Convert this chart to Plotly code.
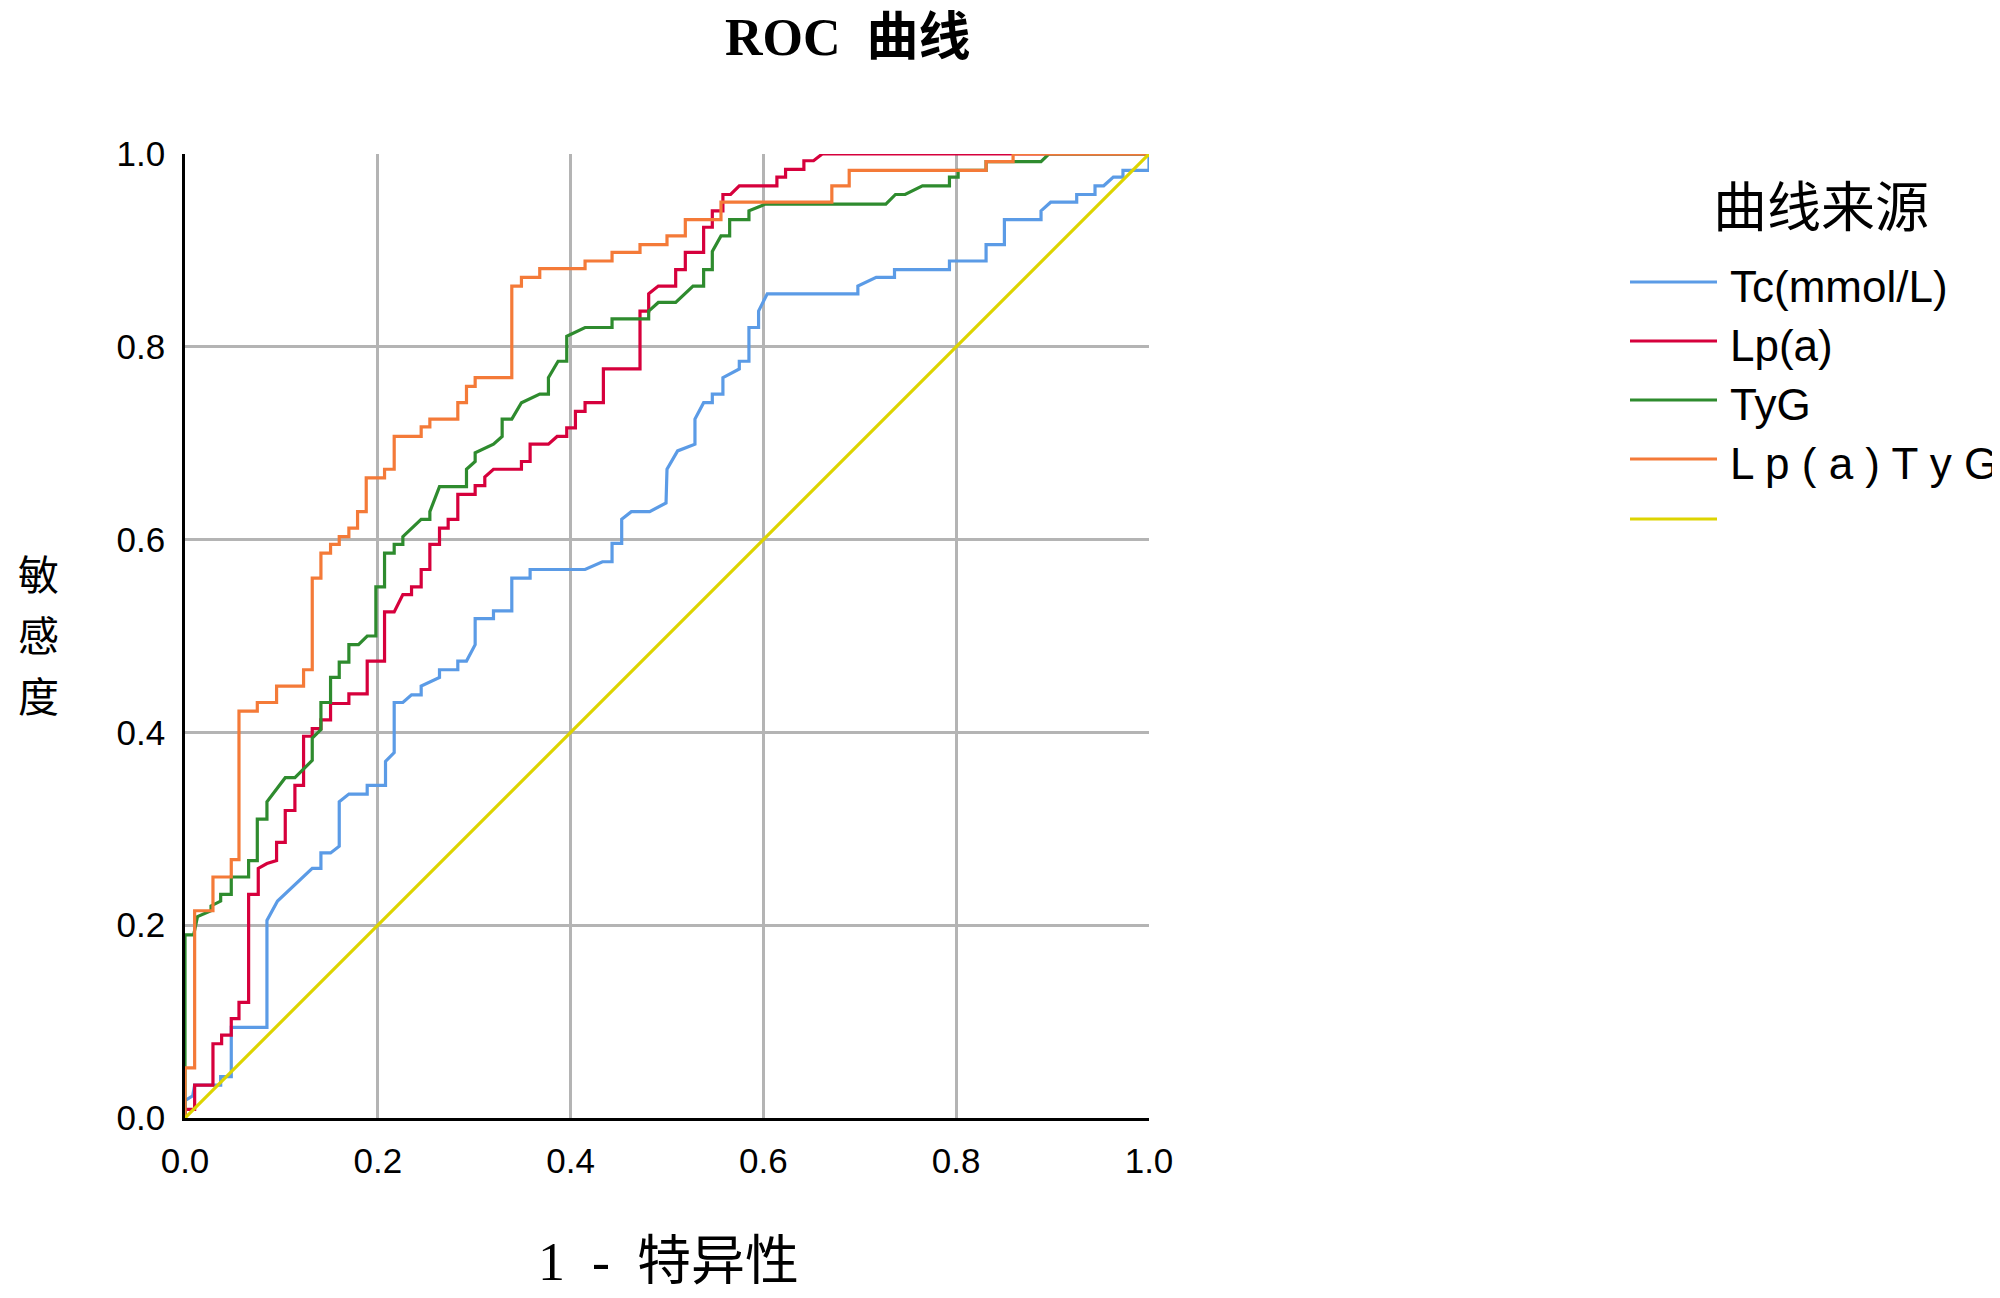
import plotly.graph_objects as go

# ROC curve points (1 - specificity, sensitivity)
tc_fpr = [0, 0, 0.008, 0.010, 0.037, 0.037, 0.048, 0.048, 0.085, 0.085, 0.096, 0.132, 0.141, 0.141, 0.151,
          0.160, 0.160, 0.170, 0.189, 0.189, 0.208, 0.208, 0.217, 0.217, 0.226, 0.235, 0.245, 0.245, 0.264,
          0.264, 0.283, 0.283, 0.292, 0.301, 0.301, 0.320, 0.320, 0.339, 0.339, 0.358, 0.358, 0.415, 0.433,
          0.443, 0.443, 0.453, 0.453, 0.463, 0.482, 0.499, 0.500, 0.511, 0.529, 0.529, 0.538, 0.547, 0.547,
          0.558, 0.558, 0.575, 0.575, 0.585, 0.585, 0.595, 0.595, 0.604, 0.698, 0.698, 0.717, 0.736, 0.736,
          0.793, 0.793, 0.831, 0.831, 0.850, 0.850, 0.888, 0.888, 0.898, 0.925, 0.925, 0.944, 0.944, 0.953,
          0.963, 0.973, 0.973, 1.0, 1.0]
tc_tpr = [0, 0.018, 0.023, 0.034, 0.034, 0.043, 0.043, 0.094, 0.094, 0.205, 0.225, 0.259, 0.259, 0.275, 0.275,
          0.282, 0.328, 0.336, 0.336, 0.345, 0.345, 0.370, 0.379, 0.431, 0.431, 0.439, 0.439, 0.448, 0.457,
          0.465, 0.465, 0.474, 0.474, 0.491, 0.518, 0.518, 0.526, 0.526, 0.560, 0.560, 0.569, 0.569, 0.577,
          0.577, 0.596, 0.596, 0.621, 0.629, 0.629, 0.638, 0.673, 0.692, 0.699, 0.725, 0.742, 0.742, 0.751,
          0.751, 0.768, 0.777, 0.785, 0.785, 0.820, 0.820, 0.837, 0.855, 0.855, 0.863, 0.872, 0.872, 0.880,
          0.880, 0.889, 0.889, 0.906, 0.906, 0.932, 0.932, 0.941, 0.950, 0.950, 0.958, 0.958, 0.967, 0.967,
          0.976, 0.976, 0.983, 0.983, 1.0]

lpa_fpr = [0, 0, 0.010, 0.010, 0.029, 0.029, 0.038, 0.038, 0.048, 0.048, 0.056, 0.056, 0.066, 0.066, 0.076,
           0.076, 0.085, 0.095, 0.095, 0.104, 0.104, 0.114, 0.114, 0.123, 0.123, 0.132, 0.132, 0.141, 0.141,
           0.151, 0.151, 0.170, 0.170, 0.189, 0.189, 0.207, 0.207, 0.217, 0.226, 0.235, 0.235, 0.245, 0.245,
           0.254, 0.254, 0.264, 0.264, 0.273, 0.273, 0.283, 0.283, 0.301, 0.301, 0.311, 0.311, 0.320, 0.349,
           0.349, 0.358, 0.358, 0.377, 0.386, 0.396, 0.396, 0.405, 0.405, 0.415, 0.415, 0.434, 0.434, 0.472,
           0.472, 0.481, 0.481, 0.491, 0.509, 0.509, 0.519, 0.519, 0.538, 0.538, 0.547, 0.547, 0.558, 0.558,
           0.566, 0.575, 0.614, 0.614, 0.623, 0.623, 0.642, 0.642, 0.652, 0.661, 1.0]
lpa_tpr = [0, 0.009, 0.009, 0.034, 0.034, 0.077, 0.077, 0.086, 0.086, 0.103, 0.103, 0.120, 0.120, 0.232, 0.232,
           0.259, 0.264, 0.267, 0.286, 0.286, 0.319, 0.319, 0.345, 0.345, 0.396, 0.396, 0.404, 0.404, 0.413,
           0.413, 0.430, 0.430, 0.440, 0.440, 0.474, 0.474, 0.525, 0.525, 0.543, 0.543, 0.551, 0.551, 0.569,
           0.569, 0.595, 0.595, 0.612, 0.612, 0.621, 0.621, 0.647, 0.647, 0.656, 0.656, 0.665, 0.673, 0.673,
           0.681, 0.681, 0.699, 0.699, 0.707, 0.707, 0.716, 0.716, 0.733, 0.733, 0.742, 0.742, 0.777, 0.777,
           0.837, 0.837, 0.855, 0.863, 0.863, 0.880, 0.880, 0.898, 0.898, 0.924, 0.924, 0.941, 0.941, 0.958,
           0.958, 0.967, 0.967, 0.976, 0.976, 0.984, 0.984, 0.993, 0.993, 1.0, 1.0]

tyg_fpr = [0, 0, 0.009, 0.013, 0.027, 0.027, 0.037, 0.037, 0.048, 0.048, 0.066, 0.066, 0.075, 0.075, 0.085,
           0.085, 0.104, 0.114, 0.132, 0.132, 0.141, 0.141, 0.151, 0.151, 0.160, 0.160, 0.170, 0.170, 0.180,
           0.189, 0.198, 0.198, 0.207, 0.207, 0.217, 0.217, 0.226, 0.226, 0.245, 0.254, 0.254, 0.264, 0.292,
           0.292, 0.301, 0.301, 0.320, 0.329, 0.329, 0.339, 0.349, 0.368, 0.377, 0.377, 0.387, 0.396, 0.396,
           0.415, 0.443, 0.443, 0.481, 0.481, 0.491, 0.509, 0.527, 0.538, 0.538, 0.547, 0.547, 0.556, 0.565,
           0.565, 0.585, 0.585, 0.602, 0.727, 0.737, 0.747, 0.765, 0.793, 0.793, 0.802, 0.802, 0.831, 0.831,
           0.888, 0.896, 1.0]
tyg_tpr = [0, 0.190, 0.190, 0.209, 0.215, 0.220, 0.225, 0.232, 0.232, 0.250, 0.250, 0.267, 0.267, 0.310, 0.310,
           0.328, 0.353, 0.353, 0.371, 0.394, 0.403, 0.431, 0.431, 0.457, 0.457, 0.473, 0.473, 0.491, 0.491,
           0.500, 0.500, 0.551, 0.551, 0.586, 0.586, 0.595, 0.595, 0.603, 0.621, 0.621, 0.629, 0.655, 0.655,
           0.673, 0.681, 0.690, 0.699, 0.707, 0.725, 0.725, 0.742, 0.751, 0.751, 0.768, 0.785, 0.785, 0.811,
           0.820, 0.820, 0.829, 0.829, 0.837, 0.846, 0.846, 0.863, 0.863, 0.880, 0.880, 0.899, 0.915, 0.915,
           0.932, 0.932, 0.941, 0.948, 0.948, 0.958, 0.958, 0.967, 0.967, 0.976, 0.976, 0.983, 0.983, 0.992,
           0.992, 1.0, 1.0]

comb_fpr = [0, 0, 0.010, 0.010, 0.029, 0.029, 0.048, 0.048, 0.056, 0.056, 0.075, 0.075, 0.095, 0.095, 0.123,
            0.123, 0.132, 0.132, 0.141, 0.141, 0.151, 0.151, 0.160, 0.160, 0.170, 0.170, 0.179, 0.179, 0.188,
            0.188, 0.207, 0.207, 0.217, 0.217, 0.245, 0.245, 0.254, 0.254, 0.283, 0.283, 0.292, 0.292, 0.301,
            0.301, 0.339, 0.339, 0.349, 0.349, 0.368, 0.368, 0.415, 0.415, 0.443, 0.443, 0.472, 0.472, 0.500,
            0.500, 0.519, 0.519, 0.556, 0.556, 0.671, 0.671, 0.689, 0.689, 0.831, 0.831, 0.859, 0.859, 1.0]
comb_tpr = [0, 0.052, 0.052, 0.215, 0.215, 0.250, 0.250, 0.268, 0.268, 0.422, 0.422, 0.431, 0.431, 0.448, 0.448,
            0.465, 0.465, 0.560, 0.560, 0.586, 0.586, 0.595, 0.595, 0.603, 0.603, 0.612, 0.612, 0.629, 0.629,
            0.664, 0.664, 0.673, 0.673, 0.707, 0.707, 0.717, 0.717, 0.725, 0.725, 0.742, 0.742, 0.759, 0.759,
            0.768, 0.768, 0.863, 0.863, 0.872, 0.872, 0.881, 0.881, 0.889, 0.889, 0.898, 0.898, 0.906, 0.906,
            0.915, 0.915, 0.932, 0.932, 0.950, 0.950, 0.967, 0.967, 0.983, 0.983, 0.992, 0.992, 1.0, 1.0]

ref_fpr = [0, 1]
ref_tpr = [0, 1]

series_names = ["Tc(mmol/L)", "Lp(a)", "TyG", "L p ( a ) T y G", ""]
series_colors = ["#5b9be6", "#d6003c", "#2e8b2e", "#f47a38", "#ddd400"]
series_x = [tc_fpr, lpa_fpr, tyg_fpr, comb_fpr, ref_fpr]
series_y = [tc_tpr, lpa_tpr, tyg_tpr, comb_tpr, ref_tpr]

tick_vals = [0, 0.2, 0.4, 0.6, 0.8, 1.0]
tick_text = ["0.0", "0.2", "0.4", "0.6", "0.8", "1.0"]

# plot area in page pixels; the html body adds an 8px margin
L, R, T, B = 185, 1149, 154, 1118
W, H = 2000, 1298
BODY = 8


def px_x(p):
    return (p - L) / (R - L)


def px_y(p):
    return (B - p) / (B - T)


fig = go.Figure()
for xs, ys, name, color in zip(series_x, series_y, series_names, series_colors):
    fig.add_trace(go.Scatter(x=xs, y=ys, mode="lines", name=name,
                             line=dict(color=color, width=3.2), showlegend=False))

axis_common = dict(
    range=[0, 1], tickvals=tick_vals, ticktext=tick_text,
    showgrid=True, gridcolor="#b4b4b4", gridwidth=3,
    showline=True, linecolor="black", linewidth=2.5,
    zeroline=False, ticks="",
    tickfont=dict(family="Liberation Sans, Arial", size=35, color="black"),
)
fig.update_xaxes(**axis_common, ticklabelstandoff=10)
fig.update_yaxes(**axis_common, ticklabelstandoff=10)

cjk = "Noto Sans CJK SC"
annotations = [
    dict(text="<b>ROC  曲线</b>", x=px_x(848), y=px_y(38),
         font=dict(family="Liberation Serif, " + cjk, size=52, color="black")),
    dict(text="1  -  特异性", x=px_x(668), y=px_y(1262),
         font=dict(family="Liberation Serif, " + cjk, size=54, color="black")),
    dict(text="曲线来源", x=px_x(1821), y=px_y(203),
         font=dict(family=cjk, size=54, color="black")),
]
# vertical y title, one character per row
for ch, row in zip("敏感度", [572, 633, 694]):
    annotations.append(dict(text=ch, x=px_x(38), y=px_y(row),
                            font=dict(family=cjk, size=41, color="black")))

# legend drawn by hand so the sample lines match the long strokes of the original
legend_rows = [282, 341, 400, 459, 519]
shapes = []
for row, name, color in zip(legend_rows, series_names, series_colors):
    shapes.append(dict(type="line", xref="paper", yref="paper",
                       x0=px_x(1630), x1=px_x(1717), y0=px_y(row), y1=px_y(row),
                       line=dict(color=color, width=3)))
    if name:
        annotations.append(dict(text=name, x=px_x(1728), y=px_y(row + 4), xanchor="left",
                                font=dict(family="Liberation Sans, Arial", size=44, color="black")))

for a in annotations:
    a.setdefault("xref", "paper")
    a.setdefault("yref", "paper")
    a.setdefault("xanchor", "center")
    a.setdefault("yanchor", "middle")
    a.setdefault("showarrow", False)

fig.update_layout(
    width=W, height=H,
    margin=dict(l=L - BODY, r=W - R + BODY, t=T - BODY, b=H - B + BODY),
    plot_bgcolor="white", paper_bgcolor="white",
    annotations=annotations, shapes=shapes,
    showlegend=False,
)

fig.write_html("out.html")
